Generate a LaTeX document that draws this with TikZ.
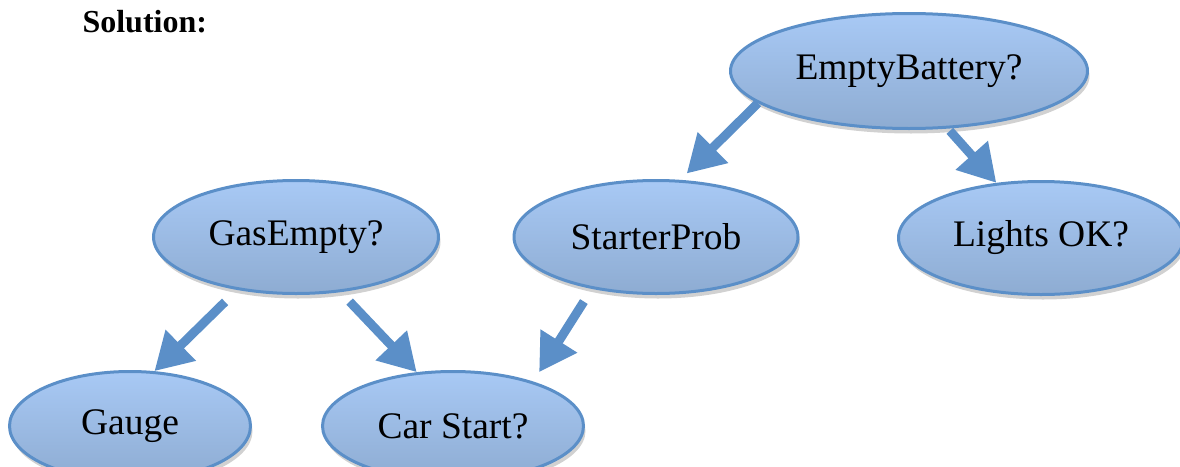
\documentclass[tikz,border=0pt]{standalone}
\usepackage{fontspec}
\setmainfont{Liberation Serif}
\usetikzlibrary{shapes.geometric,arrows.meta,shadows}
\definecolor{bubtop}{RGB}{168,201,245}
\definecolor{bubbot}{RGB}{142,172,210}
\definecolor{bubline}{RGB}{91,143,200}

\begin{document}
\begin{tikzpicture}[x=1pt,y=-1pt,
		bub/.style={ellipse,draw=bubline,line width=3pt,top color=bubtop,bottom color=bubbot,inner sep=0pt,
			drop shadow={shadow xshift=2pt,shadow yshift=-5pt,opacity=.18,fill=black},
			font=\fontsize{37.5pt}{40pt}\selectfont},
		arr/.style={draw=bubline,line width=9pt,-{Triangle[length=37pt,width=41pt]}}]
		\useasboundingbox (0,0) rectangle (1180,466);
		\node[anchor=base west,font=\fontsize{32pt}{36pt}\selectfont\bfseries] (sol) at (79,32) {Solution:};
		\node[bub,minimum width=357pt,minimum height=115pt] (eb) at (909,71) {EmptyBattery?};
		\node[bub,minimum width=284pt,minimum height=113pt] (sp) at (656,237) {StarterProb};
		\node[bub,minimum width=285pt,minimum height=113pt] (lo) at (1041,238) {Lights OK?};
		\node[bub,minimum width=285pt,minimum height=113pt] (ge) at (296,237) {GasEmpty?};
		\node[bub,minimum width=241pt,minimum height=109pt] (ga) at (130,426) {Gauge};
		\node[bub,minimum width=261pt,minimum height=109pt] (cs) at (453,426) {Car Start?};
		\draw[arr,shorten >=9pt] (eb.192) -- (sp.67);
		\draw[arr,shorten <=3pt] (eb.304) -- (lo.129);
		\draw[arr,shorten <=17pt] (ge.222) -- (ga.66);
		\draw[arr,shorten <=13pt] (ge.309) -- (cs.124);
		\draw[arr,shorten <=15pt,shorten >=11pt] (sp.219) -- (cs.29);
	\end{tikzpicture}
\end{document}
